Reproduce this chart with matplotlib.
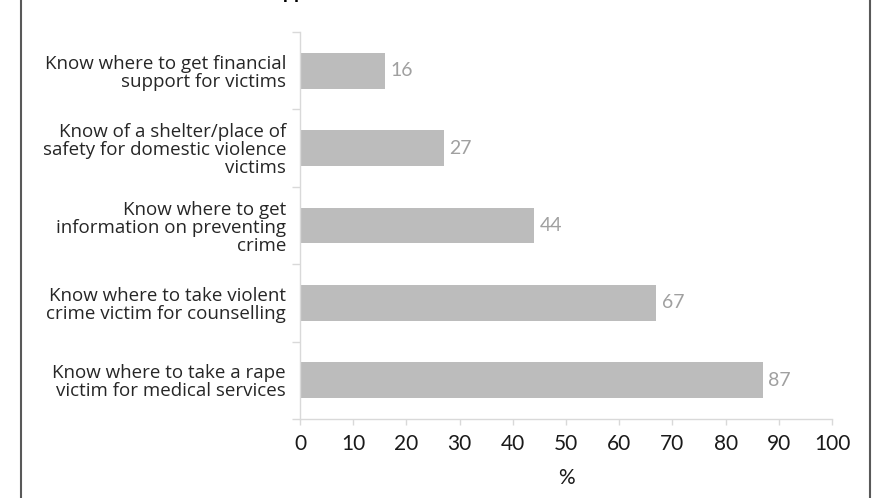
import matplotlib.pyplot as plt
from matplotlib.lines import Line2D
from matplotlib.ticker import FixedLocator

plt.rcParams['font.family'] = ['Lato', 'DejaVu Sans']

# Survey items (top to bottom) and share of respondents, %
items = [
    "Know where to get financial\nsupport for victims",
    "Know of a shelter/place of\nsafety for domestic violence\nvictims",
    "Know where to get\ninformation on preventing\ncrime",
    "Know where to take violent\ncrime victim for counselling",
    "Know where to take a rape\nvictim for medical services",
]
values = [16, 27, 44, 67, 87]
x_ticks = list(range(0, 101, 10))

fig = plt.figure(figsize=(8.72, 4.98), dpi=100)
ax = fig.add_axes([300 / 872, 79 / 498, 532 / 872, 387 / 498])

pos = list(range(len(items)))
bars = ax.barh(pos, values, height=0.465, color="#bcbcbc", zorder=2)
ax.set_ylim(len(items) - 0.5, -0.5)
ax.set_xlim(0, 100)

for b, v in zip(bars, values):
    ax.annotate(str(v), (b.get_width(), b.get_y() + b.get_height() / 2),
                xytext=(4, 0), textcoords="offset points",
                va="center", ha="left", fontsize=14, color="#a0a0a0")

# category labels without ticks, tick marks on the category boundaries
ax.set_yticks(pos)
ax.set_yticklabels(items, fontsize=13.5, color="#262626", linespacing=1.0,
                   family=["Open Sans", "DejaVu Sans"])
ax.yaxis.set_minor_locator(FixedLocator([p - 0.5 for p in pos] + [len(items) - 0.5]))
ax.tick_params(axis="y", which="major", length=0, pad=10)
ax.tick_params(axis="y", which="minor", length=6, color="#d9d9d9", width=1)

ax.set_xticks(x_ticks)
ax.tick_params(axis="x", length=4.5, color="#d9d9d9", width=1, labelsize=15,
               labelcolor="#1a1a1a", pad=6)

for side in ("top", "right"):
    ax.spines[side].set_visible(False)
for side in ("left", "bottom"):
    ax.spines[side].set_color("#d9d9d9")
    ax.spines[side].set_linewidth(1)

fig.text(566 / 872, 1 - 478 / 498, "%", ha="center", va="center",
         fontsize=15, color="#1a1a1a")

# title sits above the visible area; only the descenders show
fig.text(262 / 872, 1 + 1 / 498, "Support", ha="left", va="baseline",
         fontsize=14, fontweight="bold", color="black")

# frame lines on the left and right edges
for xpix in (21, 870):
    fig.add_artist(Line2D([xpix / 872, xpix / 872], [0, 1],
                          transform=fig.transFigure, color="#595959", lw=1.5))

fig.savefig("out.png", dpi=100)
